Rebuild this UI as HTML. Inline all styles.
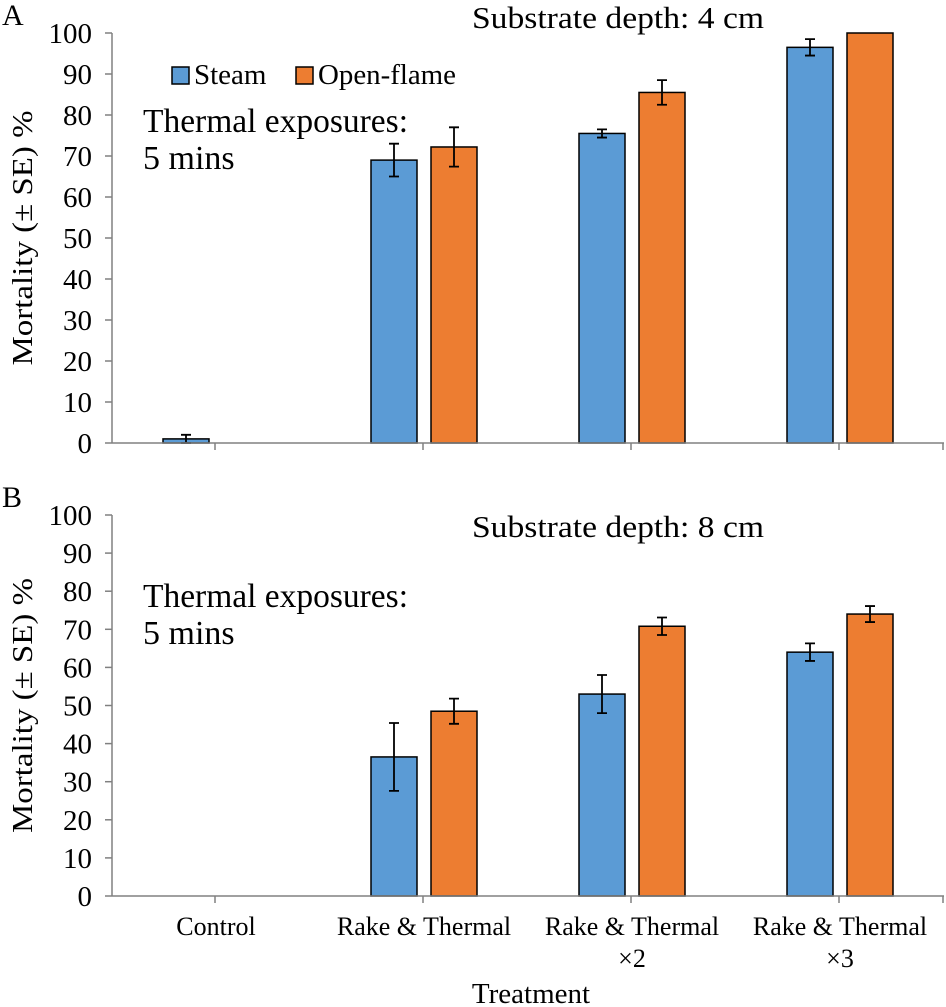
<!DOCTYPE html>
<html><head><meta charset="utf-8"><style>
html,body{margin:0;padding:0;background:#fff;}
svg{display:block;}
text{font-family:"Liberation Serif","DejaVu Serif",serif;}
</style></head><body>
<svg id="chart" width="946" height="1007" viewBox="0 0 946 1007" xmlns="http://www.w3.org/2000/svg" font-family="Liberation Serif, DejaVu Serif, serif"></svg>
<script>
const categories = ["Control", "Rake & Thermal", "Rake & Thermal|×2", "Rake & Thermal|×3"];
const steamA = [1, 69, 75.5, 96.5];
const steamErrA = [1, 4, 1, 2];
const flameA = [0, 72.2, 85.5, 100];
const flameErrA = [0, 4.8, 3, 0];
const steamB = [0, 36.5, 53, 64];
const steamErrB = [0, 8.9, 5, 2.3];
const flameB = [0, 48.5, 70.8, 74];
const flameErrB = [0, 3.3, 2.3, 2.1];
const yTicks = [0, 10, 20, 30, 40, 50, 60, 70, 80, 90, 100];

const NS = "http://www.w3.org/2000/svg";
const svg = document.getElementById("chart");
const FONT = "'Liberation Serif', 'DejaVu Serif', serif";
function mk(tag, attrs, parent, text) {
  const e = document.createElementNS(NS, tag);
  for (const k in attrs) e.setAttribute(k, attrs[k]);
  if (tag === "text") e.setAttribute("font-family", FONT);
  if (text !== undefined) e.textContent = text;
  (parent || svg).appendChild(e);
  return e;
}
const X0 = 112, X1 = 944, catW = 208;
function xCenter(i) { return X0 + catW * (i + 0.5); }

function panel(p) {
  const g = mk("g", {});
  
  
  const y = v => p.y0 - (p.y0 - p.y100) * v / 100;
  const ya = mk("line", {x1: X0, y1: p.y100, x2: X0, y2: p.y0, stroke: "#808080", "stroke-width": 1.5}, g);
  
  
  yTicks.forEach(t => {
    const tk = mk("line", {x1: X0 - 7, y1: y(t), x2: X0, y2: y(t), stroke: "#808080", "stroke-width": 1.5}, g);
    
    
    const lb = mk("text", {x: 92, y: y(t) + 10, "text-anchor": "end", "font-size": 29, fill: "#000"}, g, String(t));
    
    
  });
  categories.forEach((c, i) => {
    const cx = xCenter(i);
    [[p.steam, p.steamErr, "#5b9bd5", -53, "steam"], [p.flame, p.flameErr, "#ed7d31", 7, "open-flame"]].forEach(s => {
      const v = s[0][i], e = s[1][i];
      if (v <= 0) return;
      const r = mk("rect", {x: cx + s[3], y: y(v), width: 46, height: y(0) - y(v), fill: s[2], stroke: "#000", "stroke-width": 1.5}, g);
      
      
      if (e > 0) {
        const ex = cx + s[3] + 23;
        const eg = mk("path", {d: `M${ex},${y(v + e)}V${y(v - e)}M${ex - 5},${y(v + e)}H${ex + 5}M${ex - 5},${y(v - e)}H${ex + 5}`, stroke: "#000", "stroke-width": 1.8, fill: "none"}, g);
        
        
      }
    });
  });
  const xa = mk("line", {x1: X0, y1: p.y0, x2: X1, y2: p.y0, stroke: "#808080", "stroke-width": 1.5}, g);
  
  
  [0, 1, 2, 3].forEach(i => {
    const tk = mk("line", {x1: xCenter(i) - 1, y1: p.y0, x2: xCenter(i) - 1, y2: p.y0 + 7, stroke: "#808080", "stroke-width": 1.5}, g);
    
    
  });
  const te = mk("line", {x1: X1 - 1, y1: p.y0, x2: X1 - 1, y2: p.y0 + 7, stroke: "#808080", "stroke-width": 1.5}, g);
  
  
  const pl = mk("text", {x: 2, y: p.y100 - 8, "font-size": 30}, g, p.id);
  
  
  const ti = mk("text", {x: 472, y: p.titleY, "font-size": 31, textLength: 292, lengthAdjust: "spacingAndGlyphs"}, g, p.title);
  
  
  const t1 = mk("text", {x: 143, y: p.thY, "font-size": 34, textLength: 265, lengthAdjust: "spacingAndGlyphs"}, g, "Thermal exposures:");
  
  
  const t2 = mk("text", {x: 143, y: p.thY + 37, "font-size": 34}, g, "5 mins");
  
  
  const yt = mk("text", {x: 0, y: 0, "font-size": 28, "text-anchor": "middle", textLength: 255, lengthAdjust: "spacingAndGlyphs", transform: `translate(32,${(p.y0 + p.y100) / 2}) rotate(-90)`}, g, "Mortality (± SE) %");
  
  
}

panel({id: "A", y0: 443, y100: 33, steam: steamA, steamErr: steamErrA, flame: flameA, flameErr: flameErrA, title: "Substrate depth: 4 cm", titleY: 28, thY: 132});
panel({id: "B", y0: 896, y100: 515, steam: steamB, steamErr: steamErrB, flame: flameB, flameErr: flameErrB, title: "Substrate depth: 8 cm", titleY: 537, thY: 607});

const lg = mk("g", {});


const l1 = mk("rect", {x: 172, y: 67, width: 17, height: 17, fill: "#5b9bd5", stroke: "#000", "stroke-width": 1.5}, lg);


const l1t = mk("text", {x: 194, y: 84, "font-size": 29}, lg, "Steam");


const l2 = mk("rect", {x: 296, y: 67, width: 17, height: 17, fill: "#ed7d31", stroke: "#000", "stroke-width": 1.5}, lg);


const l2t = mk("text", {x: 318, y: 84, "font-size": 29, textLength: 138, lengthAdjust: "spacingAndGlyphs"}, lg, "Open-flame");



categories.forEach((c, i) => {
  const parts = c.split("|");
  parts.forEach((ln, j) => {
    const t = mk("text", {x: xCenter(i), y: 935 + j * 32, "font-size": 26, "text-anchor": "middle"}, svg, ln);
    
    
  });
});
const xt = mk("text", {x: 531, y: 1003, "font-size": 29, "text-anchor": "middle"}, svg, "Treatment");


</script>
</body></html>
